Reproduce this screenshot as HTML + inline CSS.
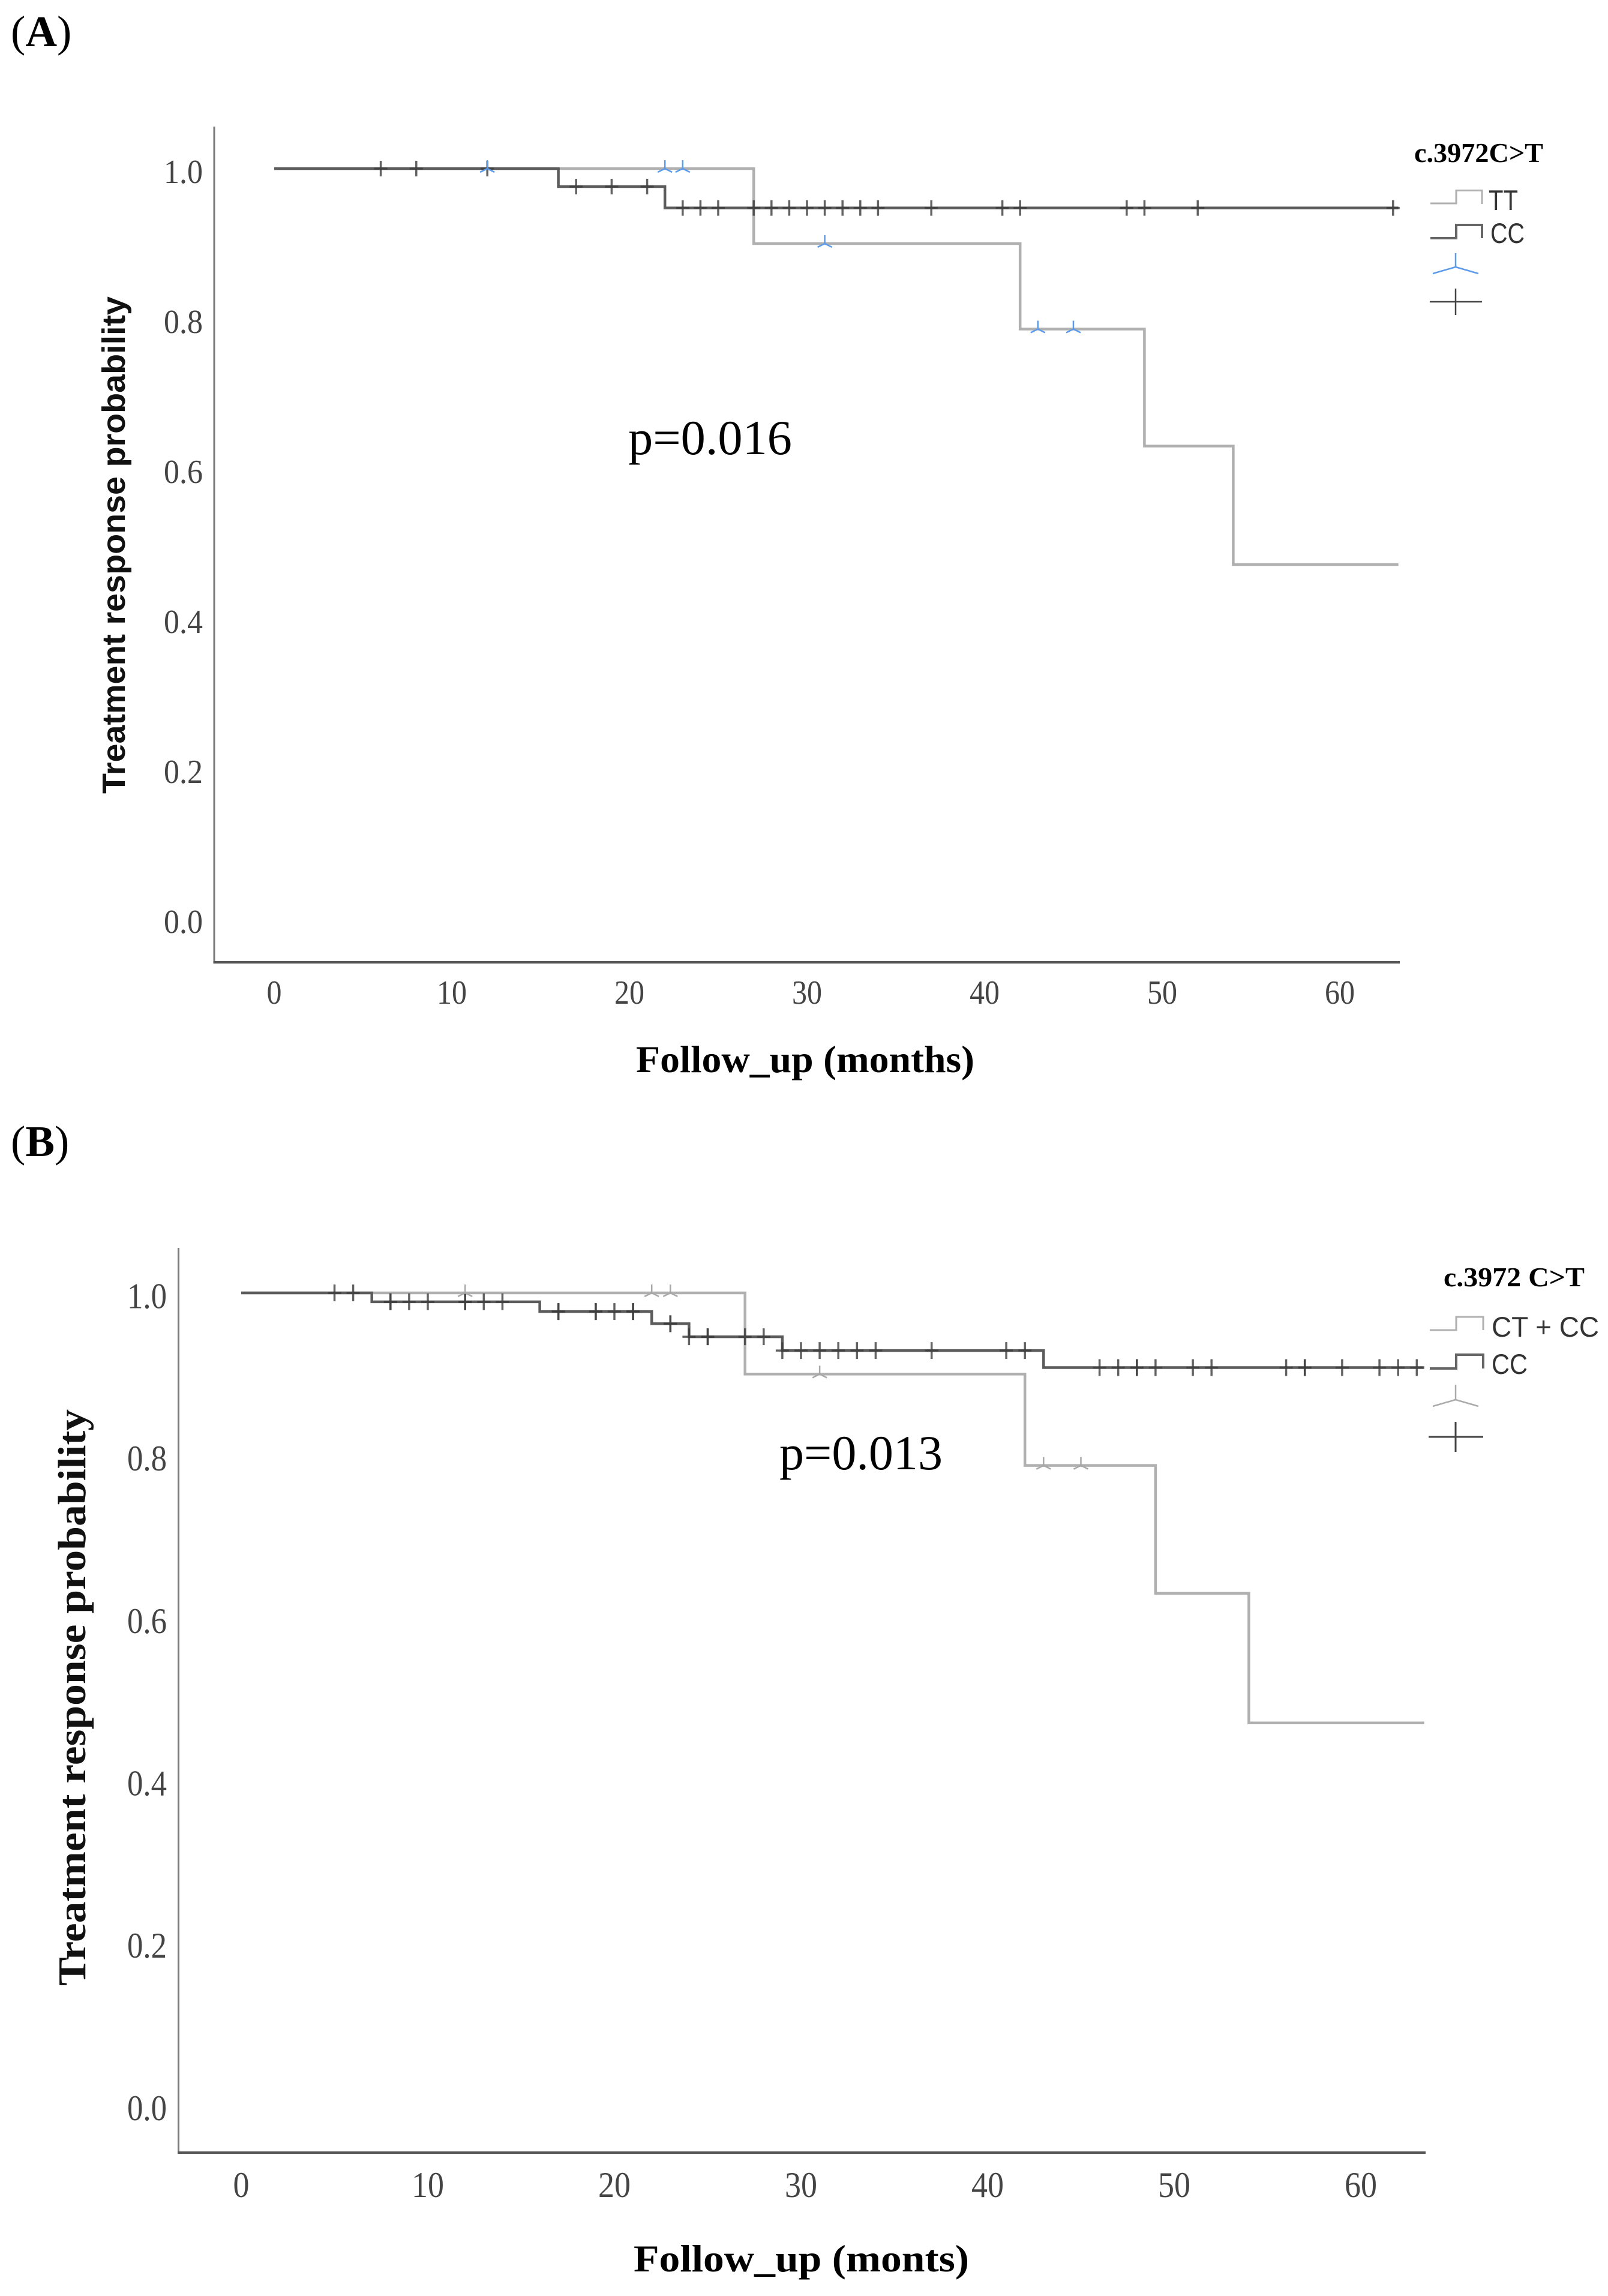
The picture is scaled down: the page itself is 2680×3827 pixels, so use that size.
<!DOCTYPE html>
<html lang="en">
<head>
<meta charset="utf-8">
<title>Kaplan-Meier treatment response curves</title>
<style>
html,body{margin:0;padding:0;background:#fff;}
svg{display:block;}
.serif{font-family:"Liberation Serif",serif;}
.sans{font-family:"Liberation Sans",sans-serif;}
.tick{font-family:"Liberation Serif",serif;fill:#444;}
.xtitle{font-family:"Liberation Serif",serif;font-weight:bold;font-size:64px;fill:#000;}
.legtitle{font-family:"Liberation Serif",serif;font-weight:bold;font-size:46px;fill:#000;}
.leglabel{font-family:"Liberation Sans",sans-serif;font-size:47px;fill:#333;}
.pval{font-family:"Liberation Serif",serif;font-size:82px;fill:#000;}
.panel{font-family:"Liberation Serif",serif;font-size:73px;fill:#000;}
</style>
</head>
<body>
<svg id="figure" xmlns="http://www.w3.org/2000/svg" width="2680" height="3827" viewBox="0 0 2680 3827">
  <rect x="0" y="0" width="2680" height="3827" fill="#fff"/>

  <text class="panel" x="18" y="77">(<tspan font-weight="bold">A</tspan>)</text>
  <g id="chartA">
    <text class="sans" transform="translate(208,1323) rotate(-90)" font-size="54" font-weight="bold" fill="#111" textLength="829" lengthAdjust="spacingAndGlyphs">Treatment response probability</text>
    <text class="xtitle" x="1060" y="1787" textLength="564" lengthAdjust="spacingAndGlyphs">Follow_up (months)</text>
    <text class="pval" x="1047" y="757" textLength="273" lengthAdjust="spacingAndGlyphs">p=0.016</text>
    <g>
      <text class="legtitle" x="2357" y="270" textLength="215" lengthAdjust="spacingAndGlyphs">c.3972C&gt;T</text>
      <path d="M2384 339H2427V317.5H2470V340" fill="none" stroke="#b0b0b0" stroke-width="3"/>
      <text class="leglabel" x="2481" y="350" textLength="49" lengthAdjust="spacingAndGlyphs">TT</text>
      <path d="M2384 397H2427V375H2470V397" fill="none" stroke="#666" stroke-width="4"/>
      <text class="leglabel" x="2484" y="405" textLength="57" lengthAdjust="spacingAndGlyphs">CC</text>
      <path d="M2426 422V445M2426 445L2388 456M2426 445L2464 456" fill="none" stroke="#5b9bea" stroke-width="2.5"/>
      <path d="M2383 503H2470M2426 481V525" fill="none" stroke="#444" stroke-width="2.5"/>
    </g>
  </g>

  <text class="panel" x="18" y="1927">(<tspan font-weight="bold">B</tspan>)</text>
  <g id="chartB">
    <text class="serif" transform="translate(142,3310) rotate(-90)" font-size="66" font-weight="bold" fill="#111" textLength="961" lengthAdjust="spacingAndGlyphs">Treatment response probability</text>
    <text class="xtitle" x="1056" y="3786" textLength="559" lengthAdjust="spacingAndGlyphs">Follow_up (monts)</text>
    <text class="pval" x="1299" y="2449" textLength="272" lengthAdjust="spacingAndGlyphs">p=0.013</text>
    <g>
      <text class="legtitle" x="2406" y="2144" textLength="235" lengthAdjust="spacingAndGlyphs">c.3972 C&gt;T</text>
      <path d="M2383 2217H2427V2195H2472V2217" fill="none" stroke="#b0b0b0" stroke-width="3"/>
      <text class="leglabel" x="2486" y="2228" textLength="179" lengthAdjust="spacingAndGlyphs">CT + CC</text>
      <path d="M2383 2281H2427V2258H2472V2281" fill="none" stroke="#666" stroke-width="4"/>
      <text class="leglabel" x="2486" y="2290" textLength="60" lengthAdjust="spacingAndGlyphs">CC</text>
      <path d="M2426 2308V2333M2426 2333L2388 2344M2426 2333L2464 2344" fill="none" stroke="#aaa" stroke-width="2.5"/>
      <path d="M2381 2395H2472M2426 2370V2420" fill="none" stroke="#444" stroke-width="3"/>
    </g>
  </g>
</svg>
<script>
// Shared tick labels
const yTickValues = [0, 0.2, 0.4, 0.6, 0.8, 1.0];
const yTickLabels = ["0.0", "0.2", "0.4", "0.6", "0.8", "1.0"];
const xTickValues = [0, 10, 20, 30, 40, 50, 60];
const xTickLabels = ["0", "10", "20", "30", "40", "50", "60"];

// Panel A: TT curve
const aFollowUpEnd = 63.3;
const aTtEventTimes = [27, 42, 49, 54];
const aTtSurvival = [0.90, 0.786, 0.63, 0.472];
const aTtCensorTimes = [12, 22, 23, 31, 43, 45];
// Panel A: CC curve
const aCcEventTimes = [16, 22];
const aCcSurvival = [0.976, 0.9475];
const aCcCensorTimes = [6, 8, 12, 17, 19, 21, 23, 24, 25, 27, 28, 29, 30, 31, 32, 33, 34, 37, 41, 42, 48, 49, 52, 63];

// Panel B: CT + CC curve
const bFollowUpEnd = 63.4;
const bCtEventTimes = [27, 42, 49, 54];
const bCtSurvival = [0.90, 0.7875, 0.63, 0.4704];
const bCtCensorTimes = [12, 22, 23, 31, 43, 45];
// Panel B: CC curve (repeated times are tied censored cases)
const bCcEventTimes = [7, 16, 22, 24, 29, 43];
const bCcSurvival = [0.989, 0.977, 0.962, 0.946, 0.929, 0.908];
const bCcCensorTimes = [5, 6, 8, 8, 9, 10, 12, 12, 13, 14, 17, 17, 19, 19, 20, 21, 21, 23, 23, 24, 25, 25, 27, 28, 29, 30, 31, 32, 33, 34, 37, 41, 42, 46, 47, 48, 48, 49, 51, 52, 56, 57, 57, 59, 61, 62, 63];

const NS = "http://www.w3.org/2000/svg";

function linearScale(origin, perUnit) {
  return function (v) { return origin + perUnit * v; };
}

function drawAxes(root, cfg) {
  const g = document.createElementNS(NS, "g");
  
  
  const yAxis = document.createElementNS(NS, "line");
  
  
  yAxis.setAttribute("x1", cfg.axisX);
  yAxis.setAttribute("x2", cfg.axisX);
  yAxis.setAttribute("y1", cfg.axisTop);
  yAxis.setAttribute("y2", cfg.axisBottom);
  yAxis.setAttribute("stroke", "#7a7a7a");
  yAxis.setAttribute("stroke-width", "3");
  g.appendChild(yAxis);
  const xAxis = document.createElementNS(NS, "line");
  
  
  xAxis.setAttribute("x1", cfg.axisX - 1.5);
  xAxis.setAttribute("x2", cfg.axisRight);
  xAxis.setAttribute("y1", cfg.axisBottom);
  xAxis.setAttribute("y2", cfg.axisBottom);
  xAxis.setAttribute("stroke", "#555");
  xAxis.setAttribute("stroke-width", "4");
  g.appendChild(xAxis);
  yTickValues.forEach(function (v, i) {
    const t = document.createElementNS(NS, "text");
    
    
    t.setAttribute("class", "tick");
    t.setAttribute("x", cfg.yLabelRight - cfg.yLabelWidth);
    t.setAttribute("y", cfg.y(v) + cfg.yLabelDrop);
    t.setAttribute("font-size", cfg.tickFont);
    t.setAttribute("textLength", cfg.yLabelWidth);
    t.setAttribute("lengthAdjust", "spacingAndGlyphs");
    t.textContent = yTickLabels[i];
    g.appendChild(t);
  });
  xTickValues.forEach(function (v, i) {
    const t = document.createElementNS(NS, "text");
    
    
    t.setAttribute("class", "tick");
    const w = cfg.xDigitWidth * xTickLabels[i].length;
    t.setAttribute("x", cfg.x(v) - w / 2);
    t.setAttribute("y", cfg.xLabelBase);
    t.setAttribute("font-size", cfg.tickFont);
    t.setAttribute("textLength", w);
    t.setAttribute("lengthAdjust", "spacingAndGlyphs");
    t.textContent = xTickLabels[i];
    g.appendChild(t);
  });
  root.appendChild(g);
}

function stepValueAt(times, values, t) {
  let s = 1;
  times.forEach(function (et, i) {
    if (et <= t) { s = values[i]; }
  });
  return s;
}

function drawLightCurve(root, cfg, times, values, end) {
  let d = "M" + cfg.x(0) + " " + cfg.y(1);
  times.forEach(function (t, i) {
    d += "H" + cfg.x(t) + "V" + cfg.y(values[i]);
  });
  d += "H" + cfg.x(end);
  const p = document.createElementNS(NS, "path");
  
  
  p.setAttribute("d", d);
  p.setAttribute("fill", "none");
  p.setAttribute("stroke", "#b0b0b0");
  p.setAttribute("stroke-width", "4.5");
  root.appendChild(p);
}

function drawDarkCurve(root, cfg, times, values, end) {
  let d = "M" + cfg.x(0) + " " + cfg.y(1);
  times.forEach(function (t, i) {
    d += "H" + cfg.x(t) + "V" + cfg.y(values[i]);
  });
  d += "H" + cfg.x(end);
  const p = document.createElementNS(NS, "path");
  
  
  p.setAttribute("d", d);
  p.setAttribute("fill", "none");
  p.setAttribute("stroke", "#5c5c5c");
  p.setAttribute("stroke-width", "4.5");
  root.appendChild(p);
}

function drawCrosses(root, cfg, censorTimes, eventTimes, values) {
  censorTimes.forEach(function (t) {
    const cx = cfg.x(t);
    const cy = cfg.y(stepValueAt(eventTimes, values, t));
    const m = document.createElementNS(NS, "path");
    
    
    m.setAttribute("d", "M" + (cx - 11) + " " + cy + "H" + (cx + 11) + "M" + cx + " " + (cy - cfg.crossHalf) + "V" + (cy + cfg.crossHalf));
    m.setAttribute("fill", "none");
    m.setAttribute("stroke", "#3c3c3c");
    m.setAttribute("stroke-width", "3.5");
    m.setAttribute("stroke-opacity", "0.8");
    root.appendChild(m);
  });
}

function drawTriMarks(root, cfg, censorTimes, eventTimes, values, color) {
  censorTimes.forEach(function (t) {
    const cx = cfg.x(t);
    const cy = cfg.y(stepValueAt(eventTimes, values, t));
    const m = document.createElementNS(NS, "path");
    
    
    m.setAttribute("d", "M" + cx + " " + (cy - 14) + "V" + cy + "M" + cx + " " + cy + "L" + (cx - 12) + " " + (cy + 6) + "M" + cx + " " + cy + "L" + (cx + 12) + " " + (cy + 6));
    m.setAttribute("fill", "none");
    m.setAttribute("stroke", color);
    m.setAttribute("stroke-width", "2.5");
    root.appendChild(m);
  });
}

const chartA = {
  x: linearScale(457, 29.6), y: linearScale(1531, -1250),
  axisX: 357, axisTop: 211, axisBottom: 1604, axisRight: 2333,
  yLabelRight: 338, yLabelWidth: 65, yLabelDrop: 24,
  xDigitWidth: 25, xLabelBase: 1673, tickFont: 56, crossHalf: 13
};
const chartB = {
  x: linearScale(402, 31.1), y: linearScale(3508.4, -1353.4),
  axisX: 297.5, axisTop: 2080, axisBottom: 3588, axisRight: 2376,
  yLabelRight: 278, yLabelWidth: 66, yLabelDrop: 25.5,
  xDigitWidth: 27, xLabelBase: 3662, tickFont: 60, crossHalf: 14
};

const rootA = document.getElementById("chartA");
drawAxes(rootA, chartA);
drawLightCurve(rootA, chartA, aTtEventTimes, aTtSurvival, aFollowUpEnd);
drawDarkCurve(rootA, chartA, aCcEventTimes, aCcSurvival, aFollowUpEnd);
drawCrosses(rootA, chartA, aCcCensorTimes, aCcEventTimes, aCcSurvival);
drawTriMarks(rootA, chartA, aTtCensorTimes, aTtEventTimes, aTtSurvival, "#5b9bea");

const rootB = document.getElementById("chartB");
drawAxes(rootB, chartB);
drawLightCurve(rootB, chartB, bCtEventTimes, bCtSurvival, bFollowUpEnd);
drawDarkCurve(rootB, chartB, bCcEventTimes, bCcSurvival, bFollowUpEnd);
drawCrosses(rootB, chartB, bCcCensorTimes, bCcEventTimes, bCcSurvival);
drawTriMarks(rootB, chartB, bCtCensorTimes, bCtEventTimes, bCtSurvival, "#a8a8a8");
</script>
</body>
</html>
